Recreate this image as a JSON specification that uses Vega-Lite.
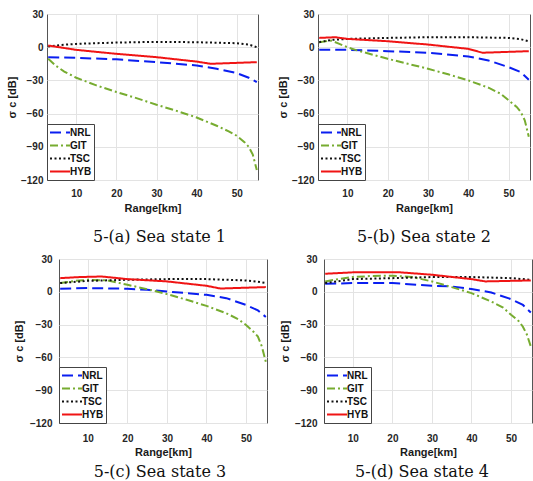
{
  "$schema": "https://vega.github.io/schema/vega-lite/v6.json",
  "padding": {"left": 4, "top": 8, "right": 2, "bottom": 0},
  "background": "white",
  "datasets": {
    "d": [
      {"p":"a","m":"NRL","r":3,"s":-9},{"p":"a","m":"NRL","r":10,"s":-9.6},{"p":"a","m":"NRL","r":20,"s":-11},{"p":"a","m":"NRL","r":30,"s":-13.5},{"p":"a","m":"NRL","r":40,"s":-16.5},{"p":"a","m":"NRL","r":45,"s":-19.5},{"p":"a","m":"NRL","r":50,"s":-23.4},{"p":"a","m":"NRL","r":53,"s":-27.6},{"p":"a","m":"NRL","r":55,"s":-31.5},
      {"p":"a","m":"GIT","r":3,"s":-10.5},{"p":"a","m":"GIT","r":5,"s":-17},{"p":"a","m":"GIT","r":7,"s":-22},{"p":"a","m":"GIT","r":10,"s":-27.6},{"p":"a","m":"GIT","r":15,"s":-34.5},{"p":"a","m":"GIT","r":20,"s":-40.5},{"p":"a","m":"GIT","r":25,"s":-46},{"p":"a","m":"GIT","r":30,"s":-52},{"p":"a","m":"GIT","r":35,"s":-57.5},{"p":"a","m":"GIT","r":40,"s":-63.5},{"p":"a","m":"GIT","r":45,"s":-71},{"p":"a","m":"GIT","r":48,"s":-76},{"p":"a","m":"GIT","r":50,"s":-80},{"p":"a","m":"GIT","r":52,"s":-86},{"p":"a","m":"GIT","r":53,"s":-90},{"p":"a","m":"GIT","r":54,"s":-97},{"p":"a","m":"GIT","r":55,"s":-111},
      {"p":"a","m":"TSC","r":3,"s":0.6},{"p":"a","m":"TSC","r":6,"s":2},{"p":"a","m":"TSC","r":10,"s":3},{"p":"a","m":"TSC","r":20,"s":4.2},{"p":"a","m":"TSC","r":30,"s":4.8},{"p":"a","m":"TSC","r":40,"s":4.5},{"p":"a","m":"TSC","r":50,"s":3.6},{"p":"a","m":"TSC","r":53,"s":2.4},{"p":"a","m":"TSC","r":55,"s":0},
      {"p":"a","m":"HYB","r":3,"s":1.5},{"p":"a","m":"HYB","r":10,"s":-2.4},{"p":"a","m":"HYB","r":20,"s":-6},{"p":"a","m":"HYB","r":30,"s":-9},{"p":"a","m":"HYB","r":40,"s":-13},{"p":"a","m":"HYB","r":43.5,"s":-15},{"p":"a","m":"HYB","r":55,"s":-13.5},

      {"p":"b","m":"NRL","r":3,"s":-2.4},{"p":"b","m":"NRL","r":10,"s":-2.4},{"p":"b","m":"NRL","r":20,"s":-3.6},{"p":"b","m":"NRL","r":30,"s":-5},{"p":"b","m":"NRL","r":40,"s":-8.4},{"p":"b","m":"NRL","r":45,"s":-12},{"p":"b","m":"NRL","r":50,"s":-18},{"p":"b","m":"NRL","r":53,"s":-22.5},{"p":"b","m":"NRL","r":55,"s":-29.4},
      {"p":"b","m":"GIT","r":3,"s":4.5},{"p":"b","m":"GIT","r":6,"s":6},{"p":"b","m":"GIT","r":8,"s":3},{"p":"b","m":"GIT","r":10,"s":0},{"p":"b","m":"GIT","r":12,"s":-2.4},{"p":"b","m":"GIT","r":15,"s":-5.5},{"p":"b","m":"GIT","r":20,"s":-10.5},{"p":"b","m":"GIT","r":25,"s":-15},{"p":"b","m":"GIT","r":30,"s":-19.5},{"p":"b","m":"GIT","r":35,"s":-24.5},{"p":"b","m":"GIT","r":40,"s":-30},{"p":"b","m":"GIT","r":45,"s":-36.6},{"p":"b","m":"GIT","r":48,"s":-42},{"p":"b","m":"GIT","r":50,"s":-48},{"p":"b","m":"GIT","r":52,"s":-54},{"p":"b","m":"GIT","r":53,"s":-58.5},{"p":"b","m":"GIT","r":54,"s":-66},{"p":"b","m":"GIT","r":55,"s":-81},
      {"p":"b","m":"TSC","r":3,"s":4.5},{"p":"b","m":"TSC","r":6,"s":6.6},{"p":"b","m":"TSC","r":10,"s":7.5},{"p":"b","m":"TSC","r":20,"s":8.4},{"p":"b","m":"TSC","r":30,"s":9},{"p":"b","m":"TSC","r":40,"s":9},{"p":"b","m":"TSC","r":50,"s":8.4},{"p":"b","m":"TSC","r":53,"s":7.2},{"p":"b","m":"TSC","r":55,"s":5.4},
      {"p":"b","m":"HYB","r":3,"s":8.4},{"p":"b","m":"HYB","r":7,"s":9},{"p":"b","m":"HYB","r":10,"s":7.5},{"p":"b","m":"HYB","r":20,"s":5.4},{"p":"b","m":"HYB","r":30,"s":2.4},{"p":"b","m":"HYB","r":40,"s":-1.5},{"p":"b","m":"HYB","r":43.5,"s":-5},{"p":"b","m":"HYB","r":55,"s":-3.6},

      {"p":"c","m":"NRL","r":3,"s":2.8},{"p":"c","m":"NRL","r":10,"s":3.4},{"p":"c","m":"NRL","r":20,"s":2.8},{"p":"c","m":"NRL","r":25,"s":1.8},{"p":"c","m":"NRL","r":30,"s":0.3},{"p":"c","m":"NRL","r":40,"s":-2.8},{"p":"c","m":"NRL","r":45,"s":-5.8},{"p":"c","m":"NRL","r":50,"s":-12},{"p":"c","m":"NRL","r":53,"s":-17},{"p":"c","m":"NRL","r":55,"s":-23},
      {"p":"c","m":"GIT","r":3,"s":8},{"p":"c","m":"GIT","r":7,"s":10},{"p":"c","m":"GIT","r":10,"s":11},{"p":"c","m":"GIT","r":15,"s":10.4},{"p":"c","m":"GIT","r":20,"s":6.4},{"p":"c","m":"GIT","r":25,"s":2.4},{"p":"c","m":"GIT","r":30,"s":-2.1},{"p":"c","m":"GIT","r":35,"s":-7.3},{"p":"c","m":"GIT","r":40,"s":-12.9},{"p":"c","m":"GIT","r":45,"s":-19.6},{"p":"c","m":"GIT","r":48,"s":-25},{"p":"c","m":"GIT","r":50,"s":-30.3},{"p":"c","m":"GIT","r":52,"s":-37},{"p":"c","m":"GIT","r":53,"s":-41},{"p":"c","m":"GIT","r":54,"s":-50},{"p":"c","m":"GIT","r":55,"s":-64},
      {"p":"c","m":"TSC","r":3,"s":8},{"p":"c","m":"TSC","r":10,"s":10},{"p":"c","m":"TSC","r":20,"s":11},{"p":"c","m":"TSC","r":30,"s":11.6},{"p":"c","m":"TSC","r":40,"s":11.6},{"p":"c","m":"TSC","r":50,"s":10.4},{"p":"c","m":"TSC","r":53,"s":9.2},{"p":"c","m":"TSC","r":55,"s":8},
      {"p":"c","m":"HYB","r":3,"s":12.5},{"p":"c","m":"HYB","r":8,"s":13.5},{"p":"c","m":"HYB","r":13.5,"s":14},{"p":"c","m":"HYB","r":20,"s":11.6},{"p":"c","m":"HYB","r":30,"s":9.5},{"p":"c","m":"HYB","r":40,"s":5.5},{"p":"c","m":"HYB","r":43.5,"s":3},{"p":"c","m":"HYB","r":55,"s":4.3},

      {"p":"d","m":"NRL","r":3,"s":7.3},{"p":"d","m":"NRL","r":10,"s":8},{"p":"d","m":"NRL","r":20,"s":8},{"p":"d","m":"NRL","r":30,"s":5.5},{"p":"d","m":"NRL","r":35,"s":4.9},{"p":"d","m":"NRL","r":40,"s":2.5},{"p":"d","m":"NRL","r":45,"s":-0.6},{"p":"d","m":"NRL","r":50,"s":-6.7},{"p":"d","m":"NRL","r":53,"s":-12},{"p":"d","m":"NRL","r":55,"s":-19},
      {"p":"d","m":"GIT","r":3,"s":9.5},{"p":"d","m":"GIT","r":7,"s":12},{"p":"d","m":"GIT","r":10,"s":13.5},{"p":"d","m":"GIT","r":15,"s":14.5},{"p":"d","m":"GIT","r":20,"s":14.7},{"p":"d","m":"GIT","r":25,"s":13.5},{"p":"d","m":"GIT","r":30,"s":9.5},{"p":"d","m":"GIT","r":35,"s":4.3},{"p":"d","m":"GIT","r":40,"s":-1.2},{"p":"d","m":"GIT","r":45,"s":-8.9},{"p":"d","m":"GIT","r":48,"s":-14.5},{"p":"d","m":"GIT","r":50,"s":-21},{"p":"d","m":"GIT","r":52,"s":-27},{"p":"d","m":"GIT","r":53,"s":-32},{"p":"d","m":"GIT","r":54,"s":-39},{"p":"d","m":"GIT","r":55,"s":-50},
      {"p":"d","m":"TSC","r":3,"s":8},{"p":"d","m":"TSC","r":10,"s":11.6},{"p":"d","m":"TSC","r":20,"s":12.5},{"p":"d","m":"TSC","r":30,"s":13.5},{"p":"d","m":"TSC","r":40,"s":13.5},{"p":"d","m":"TSC","r":50,"s":12.5},{"p":"d","m":"TSC","r":55,"s":11},
      {"p":"d","m":"HYB","r":3,"s":16.5},{"p":"d","m":"HYB","r":10,"s":17.8},{"p":"d","m":"HYB","r":22,"s":17.8},{"p":"d","m":"HYB","r":30,"s":15.6},{"p":"d","m":"HYB","r":40,"s":11.6},{"p":"d","m":"HYB","r":43.5,"s":9.5},{"p":"d","m":"HYB","r":55,"s":10.4}
    ]
  },
  "config": {
    "view": {"stroke": "#555555", "strokeWidth": 1},
    "axis": {
      "labelFont": "Liberation Sans", "labelFontWeight": "bold", "labelFontSize": 10, "labelColor": "#262626",
      "titleFont": "Liberation Sans", "titleFontSize": 11, "titleFontWeight": "bold", "titleColor": "#1a1a1a",
      "ticks": false, "domain": false, "grid": true, "gridColor": "#e3e3e3", "gridWidth": 1,
      "labelFlush": false, "labelOverlap": false
    },
    "axisX": {"labelPadding": 8, "titlePadding": 4},
    "axisY": {"labelPadding": 4, "titlePadding": 3},
    "legend": {
      "orient": "bottom-left", "offset": 0, "padding": 2, "strokeColor": "#444444", "fillColor": "white",
      "labelFont": "Liberation Sans", "labelFontWeight": "bold", "labelFontSize": 10, "labelColor": "#111111",
      "symbolType": "stroke", "symbolStrokeWidth": 2, "symbolSize": 400, "clipHeight": 13, "rowPadding": 0, "labelOffset": -1,
      "cornerRadius": 0, "title": null
    },
    "title": {"font": "DejaVu Serif", "fontSize": 16, "fontWeight": "normal", "color": "#111111", "orient": "bottom", "anchor": "middle", "frame": "group"}
  },
  "spacing": 7,
  "resolve": {"scale": {"color": "independent", "strokeDash": "independent"}, "legend": {"color": "independent", "strokeDash": "independent"}},
  "vconcat": [
    {
      "spacing": 0,
      "resolve": {"scale": {"color": "independent", "strokeDash": "independent"}, "legend": {"color": "independent", "strokeDash": "independent"}},
      "hconcat": [
        {"width": 1, "height": 166, "data": {"values": []}, "mark": "point", "view": {"stroke": null}},
        {
          "spacing": 17,
          "resolve": {"scale": {"color": "independent", "strokeDash": "independent"}, "legend": {"color": "independent", "strokeDash": "independent"}},
          "hconcat": [
            {
              "width": 211, "height": 166,
              "data": {"name": "d"},
              "transform": [{"filter": "datum.p == 'a'"}],
              "title": {"text": "5-(a) Sea state 1", "dx": 7, "offset": 16},
              "mark": {"type": "line", "strokeWidth": 2, "clip": true},
              "encoding": {
                "x": {"field": "r", "type": "quantitative", "scale": {"domain": [2.7, 55.3], "nice": false, "zero": false}, "axis": {"values": [10, 20, 30, 40, 50], "title": "Range[km]"}},
                "y": {"field": "s", "type": "quantitative", "scale": {"domain": [-120, 30], "nice": false, "zero": false}, "axis": {"values": [-120, -90, -60, -30, 0, 30], "title": "σ c [dB]"}},
                "color": {"field": "m", "type": "nominal", "scale": {"domain": ["NRL", "GIT", "TSC", "HYB"], "range": ["#0a1ef0", "#77ac30", "#111111", "#f01414"]}, "legend": {"title": null}},
                "strokeDash": {"field": "m", "type": "nominal", "scale": {"domain": ["NRL", "GIT", "TSC", "HYB"], "range": [[11, 5], [8, 3, 2, 3], [2, 2.5], [1, 0]]}, "legend": {"title": null}}
              }
            },
            {
              "width": 212, "height": 166,
              "data": {"name": "d"},
              "transform": [{"filter": "datum.p == 'b'"}],
              "title": {"text": "5-(b) Sea state 2", "dx": 0, "offset": 16},
              "mark": {"type": "line", "strokeWidth": 2, "clip": true},
              "encoding": {
                "x": {"field": "r", "type": "quantitative", "scale": {"domain": [2.7, 55.3], "nice": false, "zero": false}, "axis": {"values": [10, 20, 30, 40, 50], "title": "Range[km]"}},
                "y": {"field": "s", "type": "quantitative", "scale": {"domain": [-120, 30], "nice": false, "zero": false}, "axis": {"values": [-120, -90, -60, -30, 0, 30], "title": "σ c [dB]"}},
                "color": {"field": "m", "type": "nominal", "scale": {"domain": ["NRL", "GIT", "TSC", "HYB"], "range": ["#0a1ef0", "#77ac30", "#111111", "#f01414"]}, "legend": {"title": null}},
                "strokeDash": {"field": "m", "type": "nominal", "scale": {"domain": ["NRL", "GIT", "TSC", "HYB"], "range": [[11, 5], [8, 3, 2, 3], [2, 2.5], [1, 0]]}, "legend": {"title": null}}
              }
            }
          ]
        }
      ]
    },
    {
      "spacing": 0,
      "resolve": {"scale": {"color": "independent", "strokeDash": "independent"}, "legend": {"color": "independent", "strokeDash": "independent"}},
      "hconcat": [
        {"width": 8, "height": 164, "data": {"values": []}, "mark": "point", "view": {"stroke": null}},
        {
          "spacing": 10,
          "resolve": {"scale": {"color": "independent", "strokeDash": "independent"}, "legend": {"color": "independent", "strokeDash": "independent"}},
          "hconcat": [
            {
              "width": 208, "height": 164,
              "data": {"name": "d"},
              "transform": [{"filter": "datum.p == 'c'"}],
              "title": {"text": "5-(c) Sea state 3", "dx": -3, "offset": 7},
              "mark": {"type": "line", "strokeWidth": 2, "clip": true},
              "encoding": {
                "x": {"field": "r", "type": "quantitative", "scale": {"domain": [2.7, 55.3], "nice": false, "zero": false}, "axis": {"values": [10, 20, 30, 40, 50], "title": "Range[km]", "labelPadding": 10, "titlePadding": 3}},
                "y": {"field": "s", "type": "quantitative", "scale": {"domain": [-120, 30], "nice": false, "zero": false}, "axis": {"values": [-120, -90, -60, -30, 0, 30], "title": "σ c [dB]", "labelPadding": 7, "titlePadding": 5}},
                "color": {"field": "m", "type": "nominal", "scale": {"domain": ["NRL", "GIT", "TSC", "HYB"], "range": ["#0a1ef0", "#77ac30", "#111111", "#f01414"]}, "legend": {"title": null}},
                "strokeDash": {"field": "m", "type": "nominal", "scale": {"domain": ["NRL", "GIT", "TSC", "HYB"], "range": [[11, 5], [8, 3, 2, 3], [2, 2.5], [1, 0]]}, "legend": {"title": null}}
              }
            },
            {
              "width": 208, "height": 164,
              "data": {"name": "d"},
              "transform": [{"filter": "datum.p == 'd'"}],
              "title": {"text": "5-(d) Sea state 4", "dx": -6, "offset": 7},
              "mark": {"type": "line", "strokeWidth": 2, "clip": true},
              "encoding": {
                "x": {"field": "r", "type": "quantitative", "scale": {"domain": [2.7, 55.3], "nice": false, "zero": false}, "axis": {"values": [10, 20, 30, 40, 50], "title": "Range[km]", "labelPadding": 10, "titlePadding": 3}},
                "y": {"field": "s", "type": "quantitative", "scale": {"domain": [-120, 30], "nice": false, "zero": false}, "axis": {"values": [-120, -90, -60, -30, 0, 30], "title": "σ c [dB]", "labelPadding": 7, "titlePadding": 4}},
                "color": {"field": "m", "type": "nominal", "scale": {"domain": ["NRL", "GIT", "TSC", "HYB"], "range": ["#0a1ef0", "#77ac30", "#111111", "#f01414"]}, "legend": {"title": null}},
                "strokeDash": {"field": "m", "type": "nominal", "scale": {"domain": ["NRL", "GIT", "TSC", "HYB"], "range": [[11, 5], [8, 3, 2, 3], [2, 2.5], [1, 0]]}, "legend": {"title": null}}
              }
            }
          ]
        }
      ]
    }
  ]
}
